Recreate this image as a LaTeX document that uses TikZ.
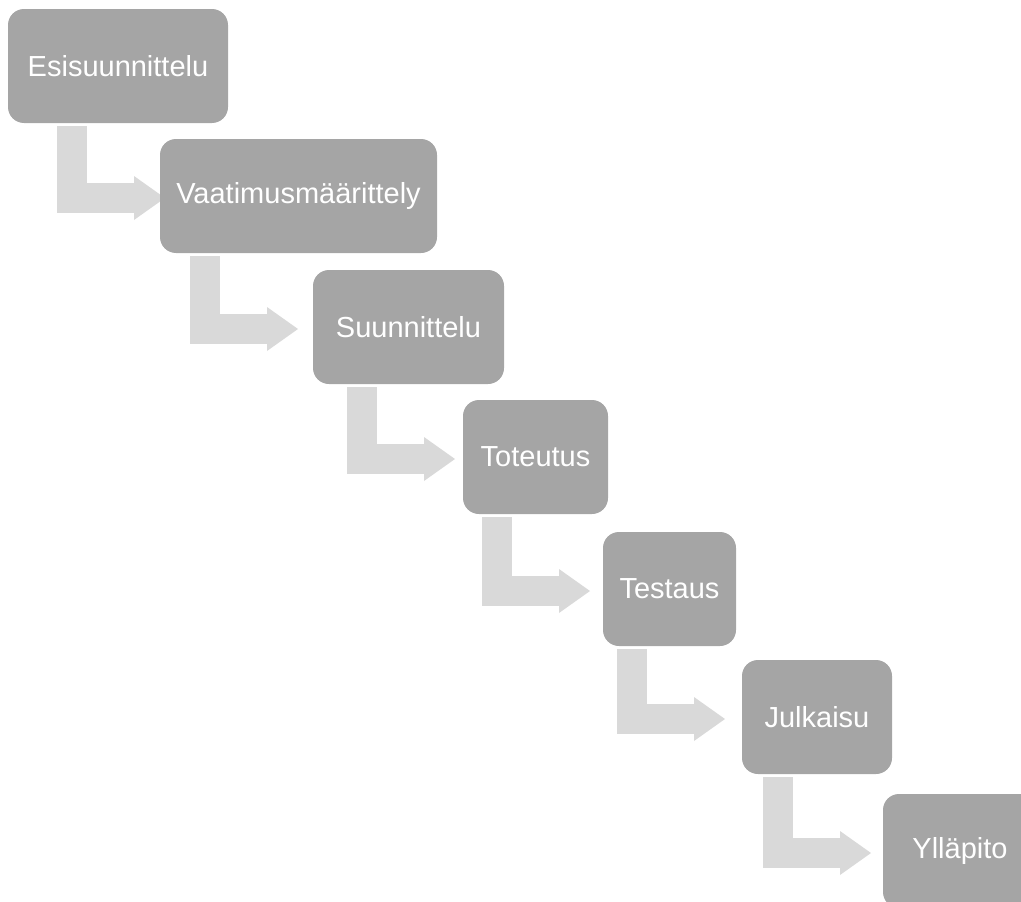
\documentclass[tikz,border=0pt]{standalone}
\usepackage{fontspec}
\setmainfont{Liberation Sans}
\usetikzlibrary{calc, arrows.meta, backgrounds}
\definecolor{boxgray}{HTML}{A5A5A5}
\definecolor{arrowgray}{HTML}{D9D9D9}

\begin{document}
\begin{tikzpicture}[x=1pt,y=-1pt,
        phase/.style={fill=boxgray, text=white, rounded corners=16pt,
            minimum height=114pt, inner sep=0pt, outer sep=0pt,
            font=\fontsize{29}{35}\selectfont},
        steparrow/.style={draw=arrowgray, line width=30pt,
            -{Triangle[length=31pt, width=44pt, line width=0pt 0 0]}}]
    \useasboundingbox (0,0) rectangle (1021,902);
    \clip (0,0) rectangle (1021,902);
    \node[phase, minimum width=220pt] (esi) at (118,66) {Esisuunnittelu};
    \node[phase, minimum width=277pt] (vaat) at (298.5,196) {Vaatimusmäärittely};
    \node[phase, minimum width=191pt] (suun) at (408.5,327) {Suunnittelu};
    \node[phase, minimum width=145pt] (tot) at (535.5,457) {Toteutus};
    \node[phase, minimum width=133pt] (test) at (669.5,589) {Testaus};
    \node[phase, minimum width=150pt] (julk) at (817,717) {Julkaisu};
    \node[phase, minimum width=154pt] (yll) at (960,851) {Ylläpito};
    \begin{scope}[on background layer]
        \foreach \a/\b/\dx/\ex in {esi/vaat/64/5, vaat/suun/45/-15, suun/tot/49/-8,
                tot/test/34/-13, test/julk/29/-17, julk/yll/36/-12}{
            \draw[steparrow] ($(\a.south west)+(\dx,3)$) |- ($(\b.west)+(\ex,2)$);
        }
    \end{scope}
\end{tikzpicture}
\end{document}
